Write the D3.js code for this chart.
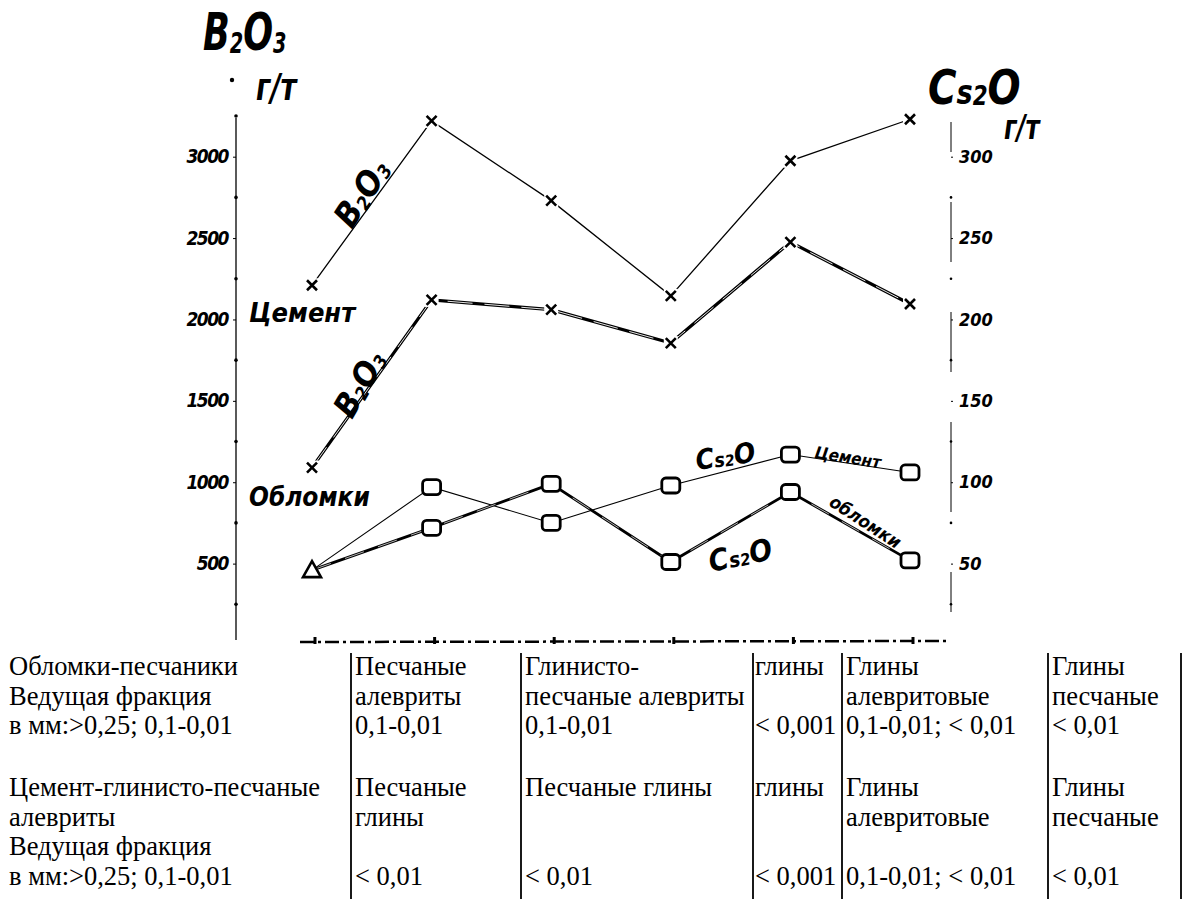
<!DOCTYPE html>
<html><head><meta charset="utf-8">
<script src="https://cdn.jsdelivr.net/npm/d3@7"></script>
<style>
body{margin:0;background:#fff;}
svg{display:block;}
.hand{font-family:"DejaVu Sans Condensed","DejaVu Sans",sans-serif;font-style:italic;font-weight:bold;fill:#000;}
.tbl{font-family:"Liberation Serif","Times New Roman",serif;font-size:26.5px;fill:#000;}
</style></head>
<body>
<svg id="c" width="1186" height="899"></svg>
<script>
// ---- data ----
const categories = ["Обломки-песчаники","Песчаные алевриты","Глинисто-песчаные алевриты","глины","Глины алевритовые","Глины песчаные"];
const b2o3Cement    = [2210, 3220, 2730, 2145, 2975, 3230];
const b2o3Fragments = [1090, 2120, 2060, 1855, 2475, 2095];
const cs2oCement    = [46, 97, 75, 98, 117, 106];
const cs2oFragments = [46, 72, 99, 51, 94, 52];
const leftTicks  = [500, 1000, 1500, 2000, 2500, 3000];
const rightTicks = [50, 100, 150, 200, 250, 300];
const leftMinor  = [250, 750, 1250, 1750, 2250, 2750, 3250];
const rightMinor = [25, 75, 125, 175, 225, 275];
// table text
const tableCols = [
  {row1:["Обломки-песчаники","Ведущая фракция","в мм:>0,25; 0,1-0,01"],
   row2:["Цемент-глинисто-песчаные","алевриты","Ведущая фракция","в мм:>0,25; 0,1-0,01"]},
  {row1:["Песчаные","алевриты","0,1-0,01"], row2:["Песчаные","глины","","< 0,01"]},
  {row1:["Глинисто-","песчаные алевриты","0,1-0,01"], row2:["Песчаные глины","","","< 0,01"]},
  {row1:["глины","","< 0,001"], row2:["глины","","","< 0,001"]},
  {row1:["Глины","алевритовые","0,1-0,01; < 0,01"], row2:["Глины","алевритовые","","0,1-0,01; < 0,01"]},
  {row1:["Глины","песчаные","< 0,01"], row2:["Глины","песчаные","","< 0,01"]}
];

const svg = d3.select("#c");
const x  = d3.scalePoint().domain(categories).range([312, 910]);
const yL = d3.scaleLinear().domain([0, 3250]).range([645, 116]);
const yR = d3.scaleLinear().domain([0, 325]).range([645, 116]);

// ---- left axis ----
const gL = svg.append("g").attr("transform","translate(236,0)")
  .call(d3.axisLeft(yL).tickValues(leftTicks).tickFormat(d3.format("d")).tickSize(3).tickSizeOuter(0).tickPadding(5));
gL.select(".domain").attr("stroke","#000").attr("stroke-width",1.3).attr("d","M0,118V640");
gL.selectAll("text").attr("class","hand").attr("font-size",19).style("letter-spacing","-1.5px");
gL.selectAll(".minor").data(leftMinor).enter().append("circle")
  .attr("cx",0).attr("cy",d=>yL(d)).attr("r",1.8).attr("fill","#000");

// ---- right axis ----
const gR = svg.append("g").attr("transform","translate(951,0)")
  .call(d3.axisRight(yR).tickValues(rightTicks).tickFormat(d3.format("d")).tickSize(2).tickSizeOuter(0).tickPadding(6));
gR.select(".domain").attr("stroke","#000").attr("stroke-width",1).attr("d","M0,122V640")
  .attr("stroke-dasharray","30,50,60,50,60,50,90,60,40");
gR.selectAll("text").attr("class","hand").attr("font-weight","normal").attr("font-size",18);
gR.selectAll(".minor").data(rightMinor).enter().append("circle")
  .attr("cx",0).attr("cy",d=>yR(d)).attr("r",1.3).attr("fill","#000");

// ---- bottom axis ----
svg.append("line").attr("x1",300).attr("x2",948).attr("y1",642).attr("y2",641)
  .attr("stroke","#000").attr("stroke-width",2.5).attr("stroke-dasharray","14,4,3,4");
svg.append("g").selectAll("line").data(categories).enter().append("line")
  .attr("x1",d=>x(d)+3).attr("x2",d=>x(d)+3).attr("y1",637).attr("y2",644)
  .attr("stroke","#000").attr("stroke-width",3);

// ---- lines ----
const lineL = d3.line().x((d,i)=>x(categories[i])).y(d=>yL(d));
const lineR = d3.line().x((d,i)=>x(categories[i])).y(d=>yR(d));

svg.append("path").attr("d",lineL(b2o3Cement)).attr("fill","none").attr("stroke","#000").attr("stroke-width",1.3);
// double line for fragments
svg.append("path").attr("d",lineL(b2o3Fragments)).attr("fill","none").attr("stroke","#000").attr("stroke-width",3.2);
svg.append("path").attr("d",lineL(b2o3Fragments)).attr("fill","none").attr("stroke","#fff").attr("stroke-width",0.9).attr("stroke-dasharray","25,12");

svg.append("path").attr("d",lineR(cs2oCement)).attr("fill","none").attr("stroke","#000").attr("stroke-width",1.1);
svg.append("path").attr("d",lineR(cs2oFragments)).attr("fill","none").attr("stroke","#000").attr("stroke-width",2.8);
svg.append("path").attr("d",lineR(cs2oFragments)).attr("fill","none").attr("stroke","#fff").attr("stroke-width",0.7).attr("stroke-dasharray","20,15");

// ---- markers ----
function crosses(data, scale){
  const g = svg.append("g");
  data.forEach((v,i)=>{
    const cx = x(categories[i]), cy = scale(v), s = 5;
    g.append("rect").attr("x",cx-7).attr("y",cy-7).attr("width",14).attr("height",14).attr("fill","#fff");
    g.append("path").attr("d",`M${cx-s},${cy-s}L${cx+s},${cy+s}M${cx-s},${cy+s}L${cx+s},${cy-s}`)
      .attr("stroke","#000").attr("stroke-width",2.6);
  });
}
crosses(b2o3Cement, yL);
crosses(b2o3Fragments, yL);

function squares(data){
  const g = svg.append("g");
  data.forEach((v,i)=>{
    if(i===0) return;
    const cx = x(categories[i]), cy = yR(v);
    g.append("rect").attr("x",cx-9).attr("y",cy-7.5).attr("width",18).attr("height",15).attr("rx",4)
      .attr("fill","#fff").attr("stroke","#000").attr("stroke-width",2.8);
  });
}
squares(cs2oCement);
squares(cs2oFragments);
// triangle at common first point
{
  const cx = x(categories[0]), cy = yR(cs2oCement[0]);
  svg.append("path").attr("d",`M${cx},${cy-9}L${cx+9},${cy+7}L${cx-9},${cy+7}Z`)
    .attr("fill","#fff").attr("stroke","#000").attr("stroke-width",2.6);
}

// ---- handwritten labels ----
function chem(sel, parts, fs){
  parts.forEach(p=>{
    const t = sel.append("tspan").text(p.t);
    if(p.sub){ t.attr("font-size",fs*0.55).attr("dy",p.dy!==undefined?p.dy*fs:fs*0.05); }
    else { t.attr("font-size",p.fs?p.fs*fs:fs).attr("dy",p.back!==undefined?-p.back*fs:0); }
  });
  return sel;
}
const B2O3 = [{t:"B"},{t:"2",sub:1},{t:"O",back:0.05},{t:"3",sub:1}];
const CS2O = [{t:"C"},{t:"s",fs:0.7},{t:"2",sub:1,dy:0.02},{t:"O",back:0.02}];
// titles
chem(svg.append("text").attr("class","hand").attr("transform","translate(203,50) scale(0.75,1)"), B2O3, 52);
svg.append("circle").attr("cx",232).attr("cy",80).attr("r",2.2).attr("fill","#000");
svg.append("text").attr("class","hand").attr("transform","translate(256,100) scale(0.9,1.1)").attr("font-size",34).text("г/т");
chem(svg.append("text").attr("class","hand").attr("transform","translate(928,104) scale(0.9,1)"), CS2O, 48);
svg.append("text").attr("class","hand").attr("transform","translate(1004,139) scale(0.9,1.1)").attr("font-size",30).text("г/т");

// in-plot labels
chem(svg.append("text").attr("class","hand").attr("transform","translate(352,230) rotate(-57)"), B2O3, 34);
svg.append("text").attr("class","hand").attr("x",249).attr("y",322).attr("font-size",27).text("Цемент");
chem(svg.append("text").attr("class","hand").attr("transform","translate(352,420) rotate(-60)"), B2O3, 33);
svg.append("text").attr("class","hand").attr("x",249).attr("y",506).attr("font-size",26).text("Обломки");
chem(svg.append("text").attr("class","hand").attr("transform","translate(697,470) rotate(-8)"), CS2O, 28);
svg.append("text").attr("class","hand").attr("font-size",17)
  .attr("transform","translate(814,458) rotate(9)").text("Цемент");
chem(svg.append("text").attr("class","hand").attr("transform","translate(711,572) rotate(-12)"), CS2O, 30);
svg.append("text").attr("class","hand").attr("font-size",18)
  .attr("transform","translate(828,505) rotate(33)").text("обломки");

// ---- table ----
const colX = [9, 355, 525, 755, 846, 1052];
const lineX = [351, 521, 753, 842, 1048, 1181];
const row1Y = 675, row2Y = 796, lh = 29.5;
tableCols.forEach((c,i)=>{
  c.row1.forEach((s,j)=>{ if(s) svg.append("text").attr("class","tbl").attr("x",colX[i]).attr("y",row1Y+j*lh).text(s); });
  c.row2.forEach((s,j)=>{ if(s) svg.append("text").attr("class","tbl").attr("x",colX[i]).attr("y",row2Y+j*lh).text(s); });
});
svg.append("g").selectAll("line").data(lineX).enter().append("line")
  .attr("x1",d=>d).attr("x2",d=>d).attr("y1",653).attr("y2",899)
  .attr("stroke","#000").attr("stroke-width",1.8);
</script>
</body></html>
